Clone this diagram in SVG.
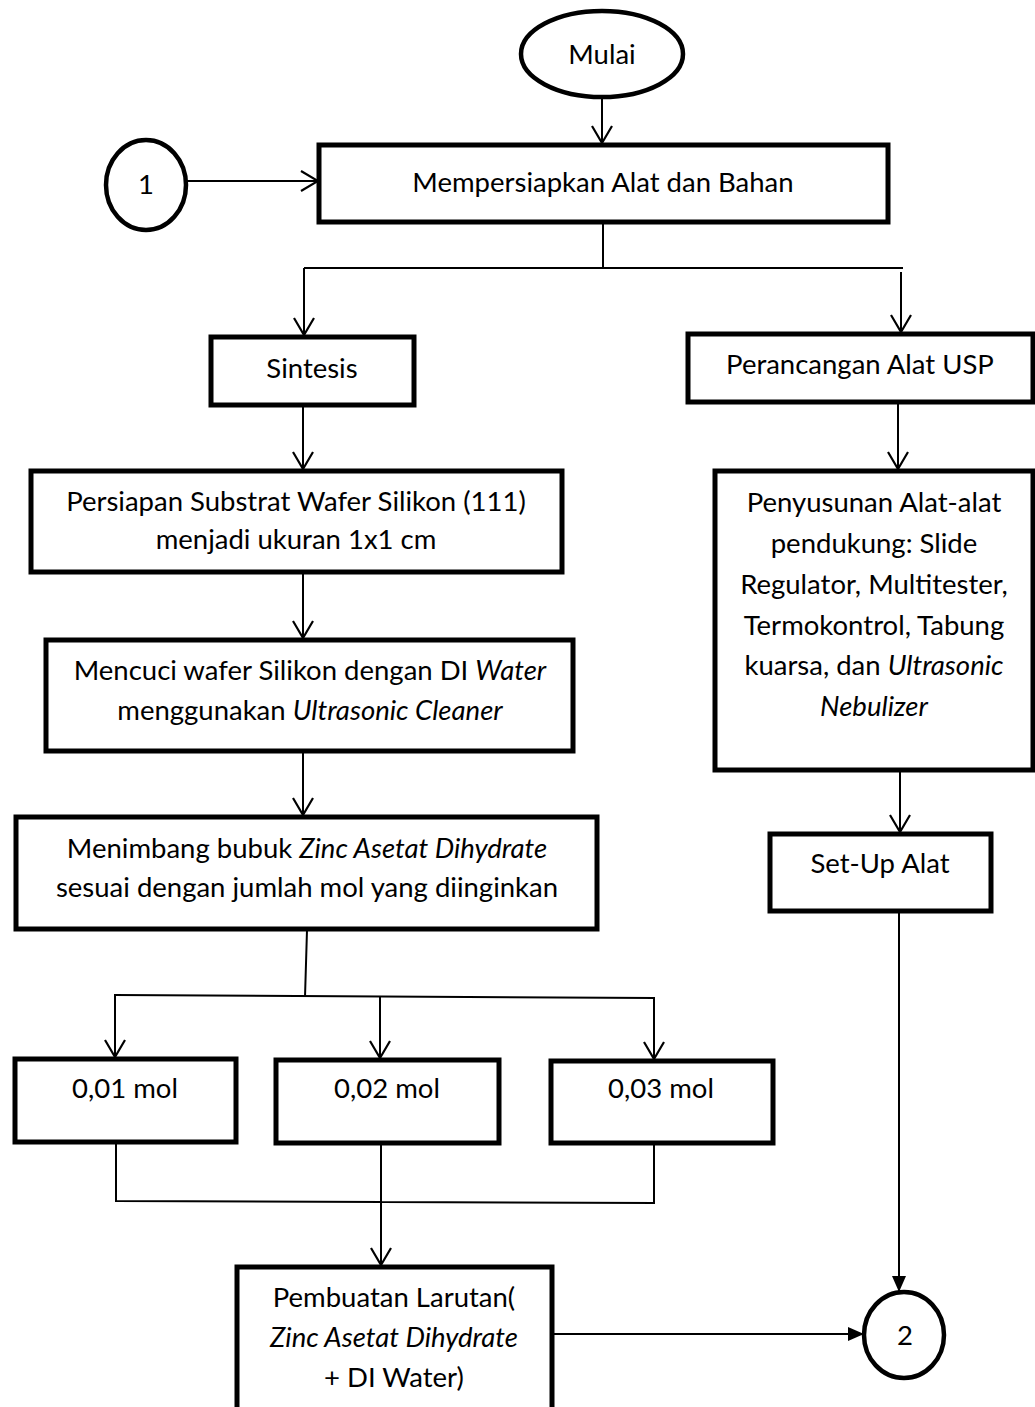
<svg xmlns="http://www.w3.org/2000/svg" width="1035" height="1407" viewBox="0 0 1035 1407">
<style>
.box{fill:#fff;stroke:#000;stroke-width:5;stroke-linejoin:miter}
.term{fill:#fff;stroke:#000;stroke-width:4.5}
.t{font-family:Lato,"Liberation Sans",sans-serif;font-size:27.5px;fill:#000;text-anchor:middle}
.i{font-style:italic}
.c{fill:none;stroke:#000;stroke-width:2}
.ca{fill:none;stroke:#000;stroke-width:2;marker-end:url(#open)}
.cf{fill:none;stroke:#000;stroke-width:2;marker-end:url(#solid)}
</style>
<defs>
<marker id="open" viewBox="0 0 20 22" refX="18" refY="11" markerWidth="20" markerHeight="22" markerUnits="userSpaceOnUse" orient="auto">
<path d="M1,1 L18,11 L1,21" fill="none" stroke="#000" stroke-width="2.2"/>
</marker>
<marker id="solid" viewBox="0 0 16 14" refX="16" refY="7" markerWidth="16" markerHeight="14" markerUnits="userSpaceOnUse" orient="auto">
<path d="M0,0 L16,7 L0,14 z" fill="#000"/>
</marker>
</defs>
<rect width="1035" height="1407" fill="#fff"/>
<g id="connectors">
<path class="ca" d="M602,97 V143"/>
<path class="ca" d="M186,181 H318"/>
<path class="c" d="M603,222 V268 M304,268 H903"/>
<path class="ca" d="M304,268 V335"/>
<path class="ca" d="M901,272 V332"/>
<path class="ca" d="M303,405 V469"/>
<path class="ca" d="M303,573 V638"/>
<path class="ca" d="M303,752 V815"/>
<path class="c" d="M307,930 L305,997 M114,995 L655,998"/>
<path class="ca" d="M115,995 V1057"/>
<path class="ca" d="M380,997 V1058"/>
<path class="ca" d="M654,998 V1059"/>
<path class="c" d="M116,1144 V1202 M654,1144 V1203 M116,1201 L655,1203 M381,1144 V1202"/>
<path class="ca" d="M381,1202 V1265"/>
<path class="cf" d="M553,1334 H864"/>
<path class="ca" d="M898,402 V469"/>
<path class="ca" d="M900,765 V832"/>
<path class="cf" d="M899,913 V1292"/>
</g>
<g id="mulai">
<ellipse class="term" cx="602" cy="54" rx="81" ry="43"/>
<text class="t" x="602" y="64">Mulai</text>
</g>
<g id="c1">
<ellipse class="term" cx="146" cy="185" rx="40" ry="45"/>
<text class="t" x="146" y="194">1</text>
</g>
<g id="persiapan-alat">
<rect class="box" x="319" y="145" width="569" height="77"/>
<text class="t" x="603" y="192">Mempersiapkan Alat dan Bahan</text>
</g>
<g id="sintesis">
<rect class="box" x="211" y="337" width="203" height="68"/>
<text class="t" x="312" y="378">Sintesis</text>
</g>
<g id="perancangan">
<rect class="box" x="688" y="334" width="345" height="68"/>
<text class="t" x="860" y="374">Perancangan Alat USP</text>
</g>
<g id="substrat">
<rect class="box" x="31" y="471" width="531" height="101"/>
<text class="t" x="296" y="511">Persiapan Substrat Wafer Silikon (111)</text>
<text class="t" x="296" y="549">menjadi ukuran 1x1 cm</text>
</g>
<g id="mencuci">
<rect class="box" x="46" y="640" width="527" height="111"/>
<text class="t" x="310" y="680">Mencuci wafer Silikon dengan DI <tspan class="i">Water</tspan></text>
<text class="t" x="310" y="720">menggunakan <tspan class="i">Ultrasonic Cleaner</tspan></text>
</g>
<g id="menimbang">
<rect class="box" x="16" y="817" width="581" height="112"/>
<text class="t" x="307" y="858">Menimbang bubuk <tspan class="i">Zinc Asetat Dihydrate</tspan></text>
<text class="t" x="307" y="897">sesuai dengan jumlah mol yang diinginkan</text>
</g>
<g id="penyusunan">
<rect class="box" x="715" y="471" width="318" height="299"/>
<text class="t" x="874" y="512">Penyusunan Alat-alat</text>
<text class="t" x="874" y="553">pendukung: Slide</text>
<text class="t" x="874" y="594">Regulator, Multitester,</text>
<text class="t" x="874" y="635">Termokontrol, Tabung</text>
<text class="t" x="874" y="675">kuarsa, dan <tspan class="i">Ultrasonic</tspan></text>
<text class="t i" x="874" y="716">Nebulizer</text>
</g>
<g id="setup">
<rect class="box" x="770" y="834" width="221" height="77"/>
<text class="t" x="880" y="873">Set-Up Alat</text>
</g>
<g id="mol1">
<rect class="box" x="15" y="1059" width="221" height="83"/>
<text class="t" x="125" y="1098">0,01 mol</text>
</g>
<g id="mol2">
<rect class="box" x="276" y="1060" width="223" height="83"/>
<text class="t" x="387" y="1098">0,02 mol</text>
</g>
<g id="mol3">
<rect class="box" x="551" y="1061" width="222" height="82"/>
<text class="t" x="661" y="1098">0,03 mol</text>
</g>
<g id="pembuatan">
<rect class="box" x="237" y="1267" width="315" height="160"/>
<text class="t" x="394" y="1307">Pembuatan Larutan(</text>
<text class="t i" x="394" y="1347">Zinc Asetat Dihydrate</text>
<text class="t" x="394" y="1387">+ DI Water)</text>
</g>
<g id="c2">
<ellipse class="term" cx="904" cy="1335" rx="40" ry="43"/>
<text class="t" x="905" y="1345">2</text>
</g>
</svg>
